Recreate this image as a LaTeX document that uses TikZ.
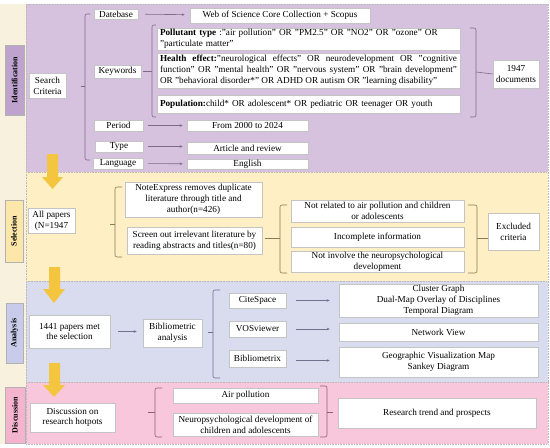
\documentclass[tikz,border=0pt]{standalone}
\usepackage{fontspec}
\setmainfont{Liberation Serif}
\usetikzlibrary{arrows.meta}
\definecolor{cream}{HTML}{F7F1DE}
\definecolor{bgid}{HTML}{D6C1DF}
\definecolor{bgsel}{HTML}{FEEFC4}
\definecolor{bgana}{HTML}{D9DBEE}
\definecolor{bgdis}{HTML}{F9C7DB}
\definecolor{labid}{HTML}{BEA3CF}
\definecolor{labsel}{HTML}{FCE6AA}
\definecolor{labana}{HTML}{C8CBE9}
\definecolor{labdis}{HTML}{F4B4CE}
\definecolor{boxline}{HTML}{C4C4C4}
\definecolor{lnid}{HTML}{7D6A8C}
\definecolor{lnsel}{HTML}{8A7A58}
\definecolor{lnana}{HTML}{6E7190}
\definecolor{lndis}{HTML}{8C5F74}
\definecolor{gold}{HTML}{F4C63F}
\begin{document}
\begin{tikzpicture}[x=1pt,y=-1pt,
  font=\fontsize{9.2}{10.8}\selectfont,
  box/.style={draw=boxline, fill=white, line width=0.5pt, inner sep=1pt, align=center},
  sz/.style 2 args={minimum width=#1pt, minimum height=#2pt},
  sect/.style={draw=gray!55, densely dotted, line width=0.6pt},
  lab/.style={draw=gray!60, line width=0.5pt, rotate=90, inner sep=0pt, font=\fontsize{8}{9}\selectfont\bfseries},
  brk/.style={line width=0.6pt, rounded corners=2pt},
  arr/.style={line width=0.6pt, -{Stealth[length=3pt,width=2.6pt]}},
  bigarrow/.style={fill=gold, draw=none}]
\useasboundingbox (0,0) rectangle (550,448);
% backgrounds
\fill[cream] (0,4) rectangle (26,444);
\fill[bgid] (26,4) rectangle (548,172);
\fill[bgsel] (26,172) rectangle (548,281);
\fill[bgana] (26,281) rectangle (548,382);
\fill[bgdis] (26,382) rectangle (548,444);
\draw[sect] (26,4) rectangle (548,444);
\draw[sect] (26,172) -- (548,172);
\draw[sect] (26,281) -- (548,281);
\draw[sect] (26,382) -- (548,382);
% section labels
\node[lab, fill=labid, sz={70}{19}] (lid) at (14.5,80) {Identification};
\node[lab, fill=labsel, sz={62}{18}] (lsel) at (14,231) {Selection};
\node[lab, fill=labana, sz={60}{17}] (lana) at (14.5,333) {Analysis};
\node[lab, fill=labdis, sz={56}{20}] (ldis) at (15,415) {Discussion};
% big arrows
\fill[bigarrow] (47,154) -- (58,154) -- (58,177) -- (63,177) -- (52.5,189) -- (42,177) -- (47,177) -- cycle;
\fill[bigarrow] (49,267) -- (60,267) -- (60,289) -- (65,289) -- (54,303) -- (43,289) -- (49,289) -- cycle;
\fill[bigarrow] (49,363) -- (60,363) -- (60,385) -- (65,385) -- (54,397) -- (43,385) -- (49,385) -- cycle;
% ===== Identification =====
\node[box, sz={37}{25}] (sc) at (47.5,85.5) {Search\\Criteria};
\node[box, sz={44}{10}] (db) at (116,14) {Datebase};
\node[box, sz={180}{15}] (wos) at (280,15.5) {Web of Science Core Collection + Scopus};
\node[box, sz={47}{13}] (kw) at (117.5,71.5) {Keywords};
\node[box, sz={303}{22}, text width=297pt, align=left] (pol) at (308.5,39)
  {\textbf{Pollutant type} :"air pollution" OR "PM2.5" OR "NO2" OR "ozone" OR\\"particulate matter"};
\node[box, sz={303}{35}, text width=297pt, align=justify] (hea) at (308.5,70.5)
  {\textbf{Health effect:}"neurological effects" OR neurodevelopment OR "cognitive\linebreak function" OR "mental health" OR "nervous system" OR "brain development"\linebreak OR "behavioral disorder*" OR ADHD OR autism OR "learning disability"};
\node[box, sz={303}{18}, text width=297pt, align=left] (popu) at (308.5,104)
  {\textbf{Population:}child* OR adolescent* OR pediatric OR teenager OR youth};
\node[box, sz={46}{28}] (doc) at (516,74) {1947\\documents};
\node[box, sz={49}{11}] (per) at (118.5,125.5) {Period};
\node[box, sz={121}{11}] (from) at (247.5,125.5) {From 2000 to 2024};
\node[box, sz={48}{11}] (typ) at (119,146.5) {Type};
\node[box, sz={121}{12}] (art) at (247.5,148.5) {Article and review};
\node[box, sz={50}{11}] (lan) at (118,163.5) {Language};
\node[box, sz={121}{10}] (eng) at (247.5,164) {English};
\begin{scope}[color=lnid]
\draw[brk] (90,14) -- (85,14) -- (85,160) -- (90,160);
\draw[line width=0.6pt] (81,86) -- (85,86);
\draw[arr, shorten <=7pt, shorten >=5pt] (db) -- (wos);
\draw[arr, shorten <=5pt, shorten >=4pt] (per) -- (from);
\draw[arr, shorten <=5pt, shorten >=4pt] (typ.east) -- (art.west |- typ.east);
\draw[arr, shorten <=5pt, shorten >=4pt] (lan) -- (eng);
\draw[line width=0.6pt] (kw.east) ++(2,0) -- (152,71.5);
\draw[brk] (156,25) -- (152,25) -- (152,117) -- (156,117);
\draw[brk] (470,28) -- (476,28) -- (476,117) -- (470,117);
\draw[line width=0.6pt] (476,72) -- (doc.west);
\end{scope}
% ===== Selection =====
\node[box, sz={47}{25}] (allp) at (51.5,220.5) {All papers\\(N=1947};
\node[box, sz={137}{35}] (note) at (193.5,199.5) {NoteExpress removes duplicate\\literature through title and\\author(n=426)};
\node[box, sz={135}{27}] (scr) at (194.5,240.5) {Screen out irrelevant literature by\\reading abstracts and titles(n=80)};
\node[box, sz={173}{22}] (nr) at (377.5,211) {Not related to air pollution and children\\or adolescents};
\node[box, sz={173}{20}] (inc) at (377.5,237) {Incomplete information};
\node[box, sz={173}{20}] (ni) at (377.5,262) {Not involve the neuropsychological\\development};
\node[box, sz={51}{37}] (exc) at (513.5,231.5) {Excluded\\criteria};
\begin{scope}[color=lnsel]
\draw[brk] (122,187) -- (115,187) -- (115,257) -- (122,257);
\draw[line width=0.6pt] (110,224) -- (115,224);
\draw[brk] (287,205) -- (280,205) -- (280,273) -- (287,273);
\draw[line width=0.6pt] (scr.east |- 0,238) ++(3,0) -- (280,238);
\draw[brk] (468,205) -- (477,205) -- (477,273) -- (468,273);
\draw[line width=0.6pt] (477,238) -- (exc.west |- 0,238);
\end{scope}
% ===== Analysis =====
\node[box, sz={81}{33}] (pap) at (69.5,331.5) {1441 papers met\\the selection};
\node[box, sz={59}{28}] (bib) at (172.5,333) {Bibliometric\\analysis};
\node[box, sz={57}{15}] (cs) at (257.5,300.5) {CiteSpace};
\node[box, sz={57}{16}] (vos) at (257.5,329) {VOSviewer};
\node[box, sz={57}{17}] (bx) at (257.5,358.5) {Bibliometrix};
\node[box, sz={199}{33}] (cg) at (438.5,300.5) {Cluster Graph\\Dual-Map Overlay of Disciplines\\Temporal Diagram};
\node[box, sz={199}{18}] (nv) at (438.5,332) {Network View};
\node[box, sz={199}{30}] (geo) at (438.5,362) {Geographic Visualization Map\\Sankey Diagram};
\begin{scope}[color=lnana]
\draw[arr, shorten <=8pt, shorten >=6pt] (pap.east) -- (bib.west |- pap.east);
\draw[brk] (220,290) -- (213,290) -- (213,378) -- (220,378);
\draw[line width=0.6pt] (208,332) -- (213,332);
\draw[arr, shorten <=10pt, shorten >=9pt] (cs) -- (cg);
\draw[arr, shorten <=10pt, shorten >=9pt] (vos.east) -- (nv.west |- vos.east);
\draw[arr, shorten <=10pt, shorten >=9pt] (bx.east) ++(0,2) -- (geo.west |- 0,360.5);
\end{scope}
% ===== Discussion =====
\node[box, sz={85}{29}] (dis) at (72.5,417.5) {Discussion on\\research hotpots};
\node[box, sz={145}{15}] (air) at (245.5,395.5) {Air pollution};
\node[box, sz={145}{23}] (neu) at (245.5,424.5) {Neuropsychological development of\\children and adolescents};
\node[box, sz={198}{30}] (rt) at (437,413) {Research trend and prospects};
\begin{scope}[color=lndis]
\draw[brk] (162,388) -- (155,388) -- (155,437) -- (162,437);
\draw[line width=0.6pt] (148,412) -- (155,412);
\draw[brk] (320,386) -- (327,386) -- (327,437) -- (320,437);
\draw[line width=0.6pt] (327,412) -- (333,412);
\end{scope}
\end{tikzpicture}
\end{document}
